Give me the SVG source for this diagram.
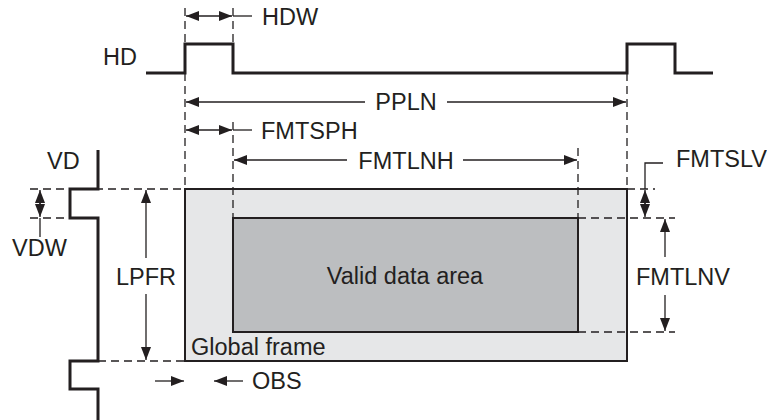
<svg xmlns="http://www.w3.org/2000/svg" width="767" height="420" viewBox="0 0 767 420">
<style>
text{font-family:"Liberation Sans",Arial,sans-serif;font-size:23.5px;fill:#231f20}
.sig{fill:none;stroke:#231f20;stroke-width:3;stroke-linejoin:miter}
.dash{fill:none;stroke:#231f20;stroke-width:1.3;stroke-dasharray:8,5}
.dim{fill:none;stroke:#231f20;stroke-width:1.3}
.arr{fill:none;stroke:#231f20;stroke-width:1.3;marker-end:url(#ah)}
.arr2{fill:none;stroke:#231f20;stroke-width:1.3;marker-start:url(#ah);marker-end:url(#ah)}
</style>
<defs>
<marker id="ah" markerUnits="userSpaceOnUse" markerWidth="14" markerHeight="11" refX="13" refY="5" orient="auto-start-reverse">
<path d="M0,0 L13,5 L0,10 z" fill="#231f20"/>
</marker>
</defs>
<rect width="767" height="420" fill="#fff"/>
<g id="global-frame">
<rect x="185" y="189" width="442" height="172" fill="#e6e7e8" stroke="#231f20" stroke-width="2"/>
<text x="191" y="355">Global frame</text>
</g>
<g id="valid-data-area">
<rect x="233" y="218" width="345" height="114" fill="#bcbec0" stroke="#231f20" stroke-width="2"/>
<text x="405" y="284" text-anchor="middle">Valid data area</text>
</g>
<g id="hd">
<text x="103" y="65">HD</text>
<path class="sig" d="M146,73 H185 V44 H233 V73 H627 V44 H675 V73 H713"/>
</g>
<g id="vd">
<text x="47" y="169">VD</text>
<path class="sig" d="M98,150 V189 H70 V218 H98 V361 H70 V389 H98 V420"/>
</g>
<g id="connectors">
<path class="dash" d="M185,8 V189 M233,8 V44 M233,122 V218 M627,73 V189 M578,148 V218"/>
<path class="dash" d="M30,189 H185 M30,218 H70 M98,361 H185 M627,189 H655 M578,218 H675 M578,332 H675"/>
<path class="arr2" d="M186,16 H232"/>
<path class="dim" d="M233,16 H252"/>
<path class="arr" d="M365,102 H186"/>
<path class="arr" d="M447,102 H626"/>
<path class="arr2" d="M186,130 H232"/>
<path class="dim" d="M233,130 H252"/>
<path class="arr" d="M347,160 H234"/>
<path class="arr" d="M463,160 H577"/>
<path class="arr" d="M645,204 V190"/>
<path class="arr" d="M645,203 V217"/>
<path class="dim" d="M645,189 V163 H663"/>
<path class="arr" d="M665,257 V219"/>
<path class="arr" d="M665,295 V331"/>
<path class="arr" d="M40,204 V190"/>
<path class="arr" d="M40,203 V217"/>
<path class="dim" d="M40,218 V237"/>
<path class="arr" d="M146,258 V190"/>
<path class="arr" d="M146,294 V360"/>
<path class="arr" d="M155,381 H184"/>
<path class="arr" d="M243,381 H214"/>
</g>
<g id="labels">
<text x="262" y="25">HDW</text>
<text x="406" y="110" text-anchor="middle">PPLN</text>
<text x="261" y="139">FMTSPH</text>
<text x="406" y="169" text-anchor="middle">FMTLNH</text>
<text x="676" y="167">FMTSLV</text>
<text x="636" y="285">FMTLNV</text>
<text x="12" y="256">VDW</text>
<text x="146" y="285" text-anchor="middle">LPFR</text>
<text x="252" y="389">OBS</text>
</g>
</svg>
